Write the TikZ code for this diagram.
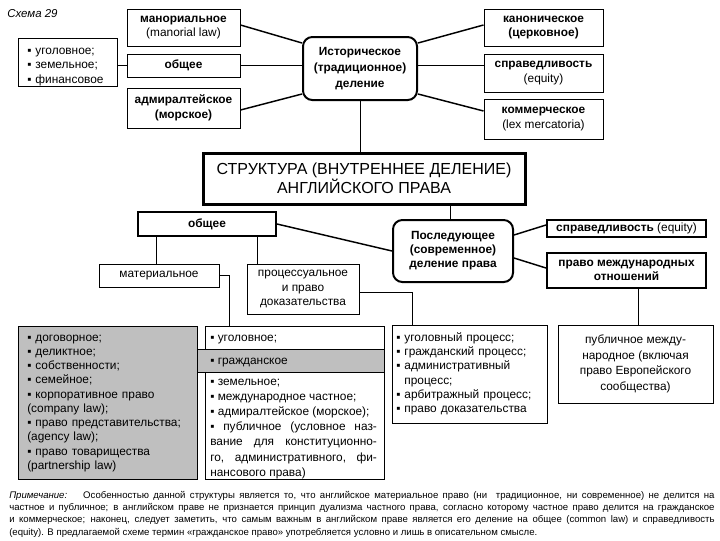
\documentclass[tikz,border=0pt]{standalone}
\usepackage{fontspec}
\setmainfont{Liberation Sans}
\usetikzlibrary{fit,calc}
\tikzset{
  box/.style={draw, line width=0.75pt, inner sep=0pt},
  thickbox/.style={box, line width=1.5pt},
  roundbox/.style={box, line width=1.5pt, rounded corners=7pt},
  grayfill/.style={fill=black!25},
  lbl/.style={inner sep=0pt, align=center, font=\fontsize{8.9}{11}\selectfont},
  blbl/.style={lbl, font=\fontsize{8.9}{11}\selectfont\bfseries},
  conn/.style={line width=0.75pt},
  dconn/.style={line width=1.1pt},
  txt/.style={inner sep=0pt, anchor=base west, align=left},
}
\begin{document}
\begin{tikzpicture}[x=0.75pt, y=-0.75pt]
\useasboundingbox[fill=white] (0,0) rectangle (720,540);

\node[txt, font=\itshape\fontsize{8.6}{10}\selectfont] (schema) at (7,17) {Схема 29};

% top left list
\node[box, fit={(18,38) (117,86)}] (tl) {};
\node[txt, text width=90pt, font=\fontsize{8.9}{10.9}\selectfont] (tltext) at (27,54) {▪ уголовное;\\▪ земельное;\\▪ финансовое};

% historical division
\node[box, fit={(127,9) (240,46)}] (man) {};
\node[lbl] (manL) at (man.center) {{\bfseries манориальное}\\(manorial law)};
\node[box, fit={(127,54) (240,77)}] (gen1) {};
\node[blbl] (gen1L) at (gen1.center) {общее};
\node[box, fit={(127,88) (240,128)}] (adm) {};
\node[blbl] (admL) at (adm.center) {адмиралтейское\\(морское)};
\node[roundbox, fit={(303,37) (417,100)}] (hist) {};
\node[blbl, font=\fontsize{8.9}{11.8}\selectfont\bfseries] (histL) at (hist.center) {Историческое\\(традиционное)\\деление};
\node[box, fit={(484,9) (603,46)}] (can) {};
\node[blbl] (canL) at (can.center) {каноническое\\(церковное)};
\node[box, fit={(484,54) (603,92)}] (spr) {};
\node[lbl] (sprL) at (spr.center) {{\bfseries справедливость}\\(equity)};
\node[box, fit={(484,99) (603,139)}] (com) {};
\node[lbl] (comL) at (com.center) {{\bfseries коммерческое}\\(lex mercatoria)};

% title
\node[box, line width=2.25pt, fit={(203,153) (525,204)}] (title) {};
\node[lbl, font=\fontsize{12}{13}\selectfont] (titleL) at (title.center) {СТРУКТУРА (ВНУТРЕННЕЕ ДЕЛЕНИЕ)\\АНГЛИЙСКОГО ПРАВА};

% modern division
\node[thickbox, fit={(138,212) (276,236)}] (gen2) {};
\node[blbl] (gen2L) at (gen2.center) {общее};
\node[box, fit={(99,264) (219,287)}] (mat) {};
\node[lbl] (matL) at (mat.center) {материальное};
\node[box, fit={(247,264) (359,314)}] (proc) {};
\node[lbl, font=\fontsize{8.9}{10.6}\selectfont] (procL) at (proc.center) {процессуальное\\и право\\доказательства};
\node[roundbox, fit={(393,220) (513,282)}] (post) {};
\node[blbl, font=\fontsize{8.9}{10.6}\selectfont\bfseries] (postL) at (post.center) {Последующее\\(современное)\\деление права};
\node[thickbox, fit={(547,220) (706,237)}] (spr2) {};
\node[lbl] (spr2L) at (spr2.center) {{\bfseries справедливость} (equity)};
\node[thickbox, fit={(547,253) (706,288)}] (intl) {};
\node[blbl] (intlL) at (intl.center) {право международных\\отношений};

% bottom boxes
\node[box, grayfill, fit={(18,326) (197,479)}] (gray) {};
\node[box, fit={(205,326) (384,479)}] (mid) {};
\node[box, grayfill, fit={(197,349) (384,372)}] (band) {};
\node[box, fit={(392,325) (547,423)}] (proc2) {};
\node[box, fit={(558,325) (713,403)}] (pub) {};
\node[lbl, font=\fontsize{8.9}{11.6}\selectfont] (pubL) at (pub.center) {публичное между-\\народное (включая\\право Европейского\\сообщества)};

\node[txt, text width=132pt, font=\fontsize{8.9}{10.7}\selectfont] (graytext) at (27,341) {▪ договорное;\\▪ деликтное;\\▪ собственности;\\▪ семейное;\\▪ корпоративное право\\(company law);\\▪ право представительства;\\(agency law);\\▪ право товарищества\\(partnership law)};

\node[txt, font=\fontsize{8.9}{11}\selectfont] (midA) at (210,341) {▪ уголовное;};
\node[txt, font=\fontsize{8.9}{11}\selectfont] (midB) at (210,364) {▪ гражданское};
\node[txt, text width=125pt, align=justify, font=\fontsize{8.9}{11.4}\selectfont] (midC) at (210,385) {▪ земельное;\newline ▪ международное частное;\newline ▪ адмиралтейское (морское);\newline ▪ публичное (условное наз-\linebreak вание для конституционно-\linebreak го, административного, фи-\linebreak нансового права)};

\node[txt, text width=118pt, font=\fontsize{8.9}{10.75}\selectfont] (proc2text) at (396,341) {▪ уголовный процесс;\\▪ гражданский процесс;\\▪ административный\\\phantom{▪ }процесс;\\▪ арбитражный процесс;\\▪ право доказательства};

% note
\node[txt, text width=529pt, align=justify, font=\fontsize{7.2}{9.25}\selectfont] (note) at (9,498) {\textit{Примечание:}\hspace{12pt}Особенностью данной структуры является то, что английское материальное право (ни~ традиционное, ни современное) не делится на\linebreak частное и публичное; в английском праве не признается принцип дуализма частного права, согласно которому частное право делится на гражданское\linebreak и коммерческое; наконец, следует заметить, что самым важным в английском праве является его деление на общее (common law) и справедливость\linebreak (equity). В предлагаемой схеме термин «гражданское право» употребляется условно и лишь в описательном смысле.};

% connectors
\draw[conn] (tl.east |- gen1.west) -- (gen1.west);
\draw[dconn] (man.east |- 0,25) -- (hist.west |- 0,43);
\draw[conn] (gen1.east) -- (hist.west |- gen1.east);
\draw[dconn] (adm.east |- 0,110) -- (hist.west |- 0,94);
\draw[dconn] (hist.east |- 0,43) -- (can.west |- 0,25);
\draw[conn] (hist.east |- 0,65) -- (spr.west |- 0,65);
\draw[dconn] (hist.east |- 0,94) -- (com.west |- 0,111);
\draw[conn] (hist.south -| 360,0) -- (title.north -| 360,0);
\draw[conn] (title.south -| 450,0) -- (post.north -| 450,0);
\draw[dconn] (gen2.east) -- (post.west |- 0,251);
\draw[conn] (gen2.south -| 156,0) -- (mat.north -| 156,0);
\draw[conn] (gen2.south -| 257,0) -- (proc.north -| 257,0);
\draw[conn] (mat.east) -| (mid.north -| 229,0);
\draw[conn] (proc.east |- 0,292) -| (proc2.north -| 412,0);
\draw[dconn] (post.east |- 0,235) -- (spr2.west |- 0,225);
\draw[dconn] (post.east |- 0,258) -- (intl.west |- 0,268);
\draw[conn] (intl.south -| 638,0) -- (pub.north -| 638,0);
\end{tikzpicture}
\end{document}
